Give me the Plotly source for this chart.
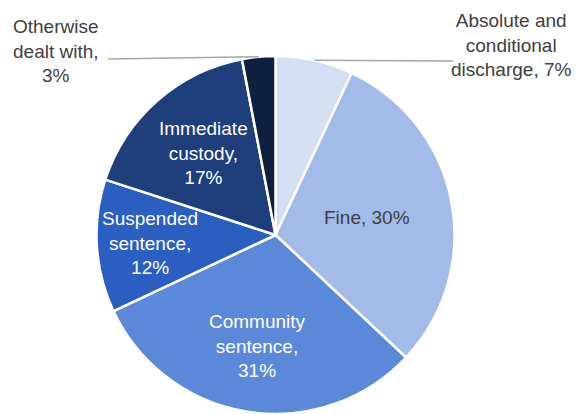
import math
import plotly.graph_objects as go

# Sentence outcomes, starting at 12 o'clock and running clockwise
categories = [
    "Absolute and conditional discharge",
    "Fine",
    "Community sentence",
    "Suspended sentence",
    "Immediate custody",
    "Otherwise dealt with",
]
shares = [7, 30, 31, 12, 17, 3]
label_templates = [
    "Absolute and<br>conditional<br>discharge, {}%",
    "Fine, {}%",
    "Community<br>sentence,<br>{}%",
    "Suspended<br>sentence,<br>{}%",
    "Immediate<br>custody,<br>{}%",
    "Otherwise<br>dealt with,<br>{}%",
]

colors = ["#d4dff4", "#a2bbe9", "#5c88da", "#2a5ec0", "#1f3e7c", "#0f203f"]
text_colors = ["#404040", "#404040", "white", "white", "white", "#404040"]

W, H = 578, 414
cx, cy, R = 275.5, 235.0, 179.0  # pie centre and radius in pixels
FONT_SIZE = 19

fig = go.Figure(
    go.Pie(
        labels=categories,
        values=shares,
        sort=False,
        direction="clockwise",
        rotation=0,
        textinfo="none",
        marker=dict(colors=colors, line=dict(color="white", width=2.5)),
        domain=dict(
            x=[(cx - R) / W, (cx + R) / W],
            y=[(H - (cy + R)) / H, (H - (cy - R)) / H],
        ),
        showlegend=False,
    )
)


def px_to_paper(px, py):
    return px / W, 1 - py / H


# mid-angle of each slice, degrees clockwise from 12 o'clock
total = sum(shares)
mids = []
acc = 0
for v in shares:
    mids.append((acc + v / 2) / total * 360)
    acc += v

# labels inside the slices, placed along the slice bisector
inside_frac = {1: 0.52, 2: 0.63, 3: 0.70, 4: 0.61}
annotations = []
shapes = []
for i, f in inside_frac.items():
    a = math.radians(mids[i])
    x, y = px_to_paper(cx + f * R * math.sin(a), cy - f * R * math.cos(a))
    annotations.append(dict(
        x=x, y=y, xref="paper", yref="paper",
        text=label_templates[i].format(shares[i]),
        showarrow=False, xanchor="center", yanchor="middle",
        font=dict(size=FONT_SIZE, color=text_colors[i]),
    ))

# labels outside the two small slices, joined by leader lines
outside = {0: ((511, 45), (453, 61)), 5: ((56, 51), (108, 59))}
for i, ((lx, ly), (ex, ey)) in outside.items():
    x, y = px_to_paper(lx, ly)
    annotations.append(dict(
        x=x, y=y, xref="paper", yref="paper",
        text=label_templates[i].format(shares[i]),
        showarrow=False, xanchor="center", yanchor="middle",
        font=dict(size=FONT_SIZE, color=text_colors[i]),
    ))
    a = math.radians(mids[i])
    sx, sy = px_to_paper(cx + R * math.sin(a), cy - R * math.cos(a))
    tx, ty = px_to_paper(ex, ey)
    shapes.append(dict(
        type="line", xref="paper", yref="paper",
        x0=sx, y0=sy, x1=tx, y1=ty,
        line=dict(color="#a6a6a6", width=1.5),
    ))

fig.update_layout(
    width=W, height=H,
    margin=dict(l=0, r=0, t=0, b=0),
    paper_bgcolor="white",
    plot_bgcolor="white",
    font=dict(family="Arial, Liberation Sans, sans-serif"),
    annotations=annotations,
    shapes=shapes,
)

fig.write_html("out.html")
